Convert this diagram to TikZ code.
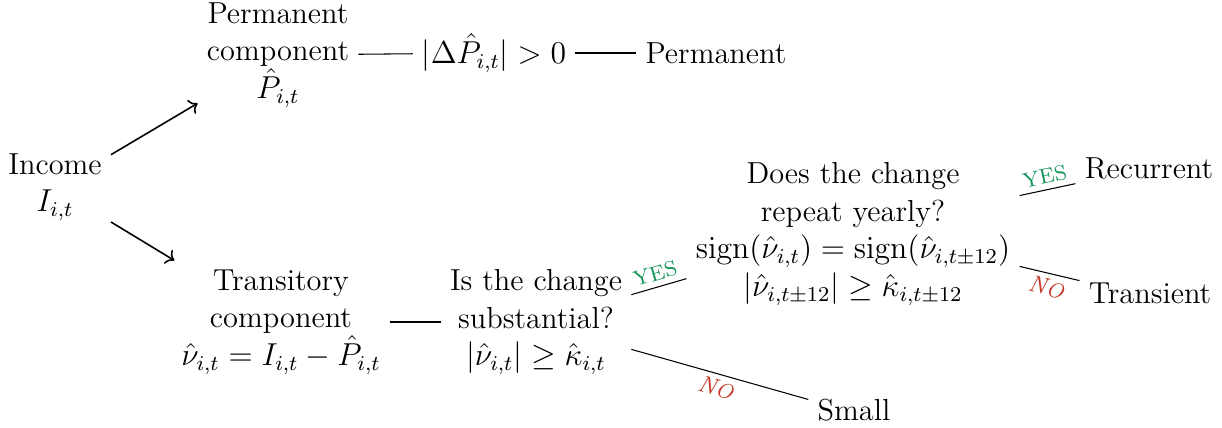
\documentclass[tikz,border=0pt]{standalone}
\usepackage{amsmath,amssymb}
\usepackage{tikz}
\usetikzlibrary{arrows.meta,positioning,calc}
\usepackage{xcolor}
\definecolor{yesgreen}{RGB}{20,150,90}
\definecolor{nored}{RGB}{195,55,40}

\begin{document}
\begin{tikzpicture}[x=0.0133cm,y=-0.0133cm,
    txt/.style={align=center,font=\fontsize{11.5}{14.2}\selectfont},
    yes/.style={sloped,above,text=yesgreen,font=\footnotesize,inner sep=2pt},
    no/.style={sloped,below,text=nored,font=\small\itshape,inner sep=2pt}]
  \useasboundingbox (0,0) rectangle (1222,427);

  % income and its two components
  \node[txt] (income) at (55,187) {Income\\$I_{i,t}$};
  \node[txt] (perm) at (278,55) {Permanent\\component\\$\hat{P}_{i,t}$};
  \node[txt] (trans) at (281,322) {Transitory\\component\\$\hat{\nu}_{i,t} = I_{i,t} - \hat{P}_{i,t}$};

  \draw[->,semithick] (income.30) -- (perm.211);
  \draw[->,semithick] (income.-32) -- (trans.150);

  % permanent branch
  \node[txt] (dP) at (494,53) {$|\Delta\hat{P}_{i,t}| > 0$};
  \node[txt] (permout) at (716,53) {Permanent};
  \draw (perm) -- (dP);
  \draw (dP) -- (permout);

  % transitory branch
  \node[txt] (subst) at (536,322) {Is the change\\substantial?\\$|\hat{\nu}_{i,t}| \geq \hat{\kappa}_{i,t}$};
  \node[txt] (yearly) at (853,234) {Does the change\\repeat yearly?\\$\mathrm{sign}(\hat{\nu}_{i,t}) = \mathrm{sign}(\hat{\nu}_{i,t\pm12})$\\$|\hat{\nu}_{i,t\pm12}| \geq \hat{\kappa}_{i,t\pm12}$};
  \node[txt] (small) at (854,410) {Small};
  \node[txt] (recur) at (1149,168) {Recurrent};
  \node[txt] (transient) at (1150,293) {Transient};

  \draw (trans) -- (subst);
  \draw (subst.16) -- node[yes] {YES} (yearly.195);
  \draw (subst.-16) -- node[no] {N{\footnotesize O}} (small.167);
  \draw (yearly.13) -- node[yes] {YES} (recur.192);
  \draw (yearly.-11) -- node[no] {N{\footnotesize O}} (transient.170);
\end{tikzpicture}
\end{document}
